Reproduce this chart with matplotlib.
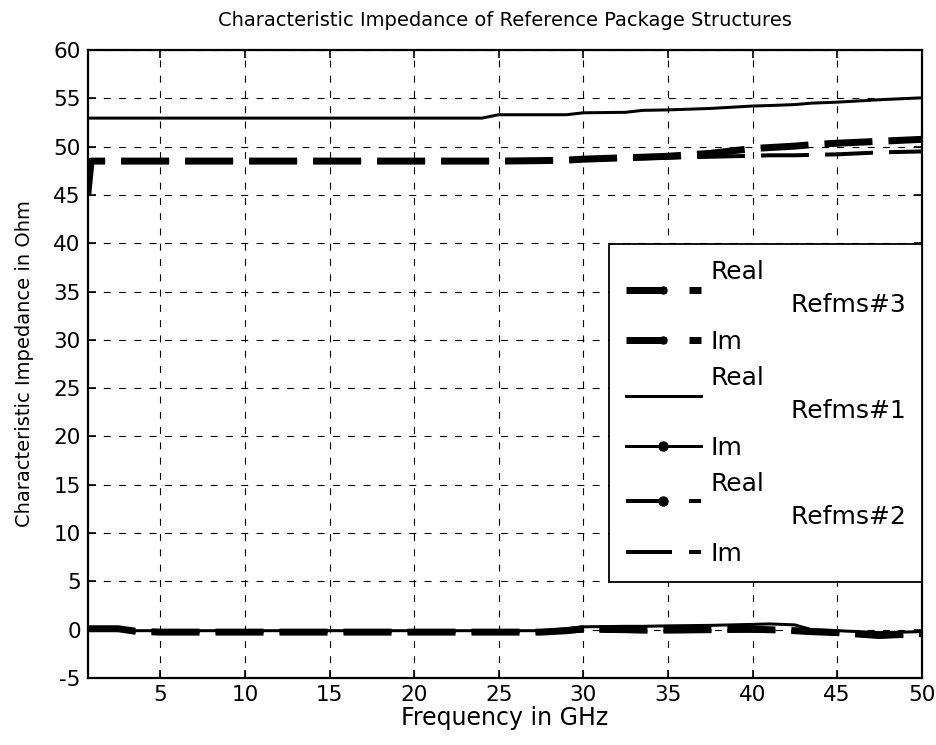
import matplotlib
matplotlib.use("Agg")
import matplotlib.pyplot as plt
from matplotlib.lines import Line2D

plt.rcParams['font.family'] = ['DejaVu Sans']
plt.rcParams['lines.scale_dashes'] = False
plt.rcParams['axes.unicode_minus'] = False

# ---- data ----
freq = [0.7, 0.9, 2.5, 3.5, 5, 7.5, 10, 12.5, 15, 17.5, 20, 22.5, 24, 25,
        27.5, 29, 30, 32.5, 33.5, 35, 37.5, 40, 41, 42.5, 43.5, 45, 47.5, 50]

refms1_real = [52.95, 52.95, 52.95, 52.95, 52.95, 52.95, 52.95, 52.95, 52.95, 52.95,
               52.95, 52.95, 52.95, 53.3, 53.3, 53.3, 53.5, 53.55, 53.75, 53.8,
               53.95, 54.2, 54.25, 54.35, 54.5, 54.6, 54.85, 55.05]
refms1_im = [0.1, 0.1, 0.1, -0.1, -0.1, -0.1, -0.1, -0.1, -0.1, -0.1,
             -0.1, -0.1, -0.1, -0.1, -0.1, 0.1, 0.3, 0.35, 0.35, 0.4,
             0.45, 0.55, 0.6, 0.5, 0.0, -0.1, -0.3, -0.2]

refms3_real = [45.0, 48.5, 48.5, 48.5, 48.5, 48.5, 48.5, 48.5, 48.5, 48.5,
               48.5, 48.5, 48.5, 48.5, 48.55, 48.6, 48.7, 48.85, 48.9, 49.0,
               49.3, 49.8, 49.9, 50.05, 50.2, 50.35, 50.55, 50.75]
refms3_im = [0.1, 0.1, 0.1, -0.15, -0.25, -0.25, -0.25, -0.25, -0.25, -0.25,
             -0.25, -0.25, -0.25, -0.25, -0.25, -0.1, 0.1, 0.1, 0.1, 0.1,
             0.1, 0.05, 0.0, -0.1, -0.2, -0.3, -0.6, -0.4]

refms2_real = [45.0, 48.5, 48.5, 48.5, 48.5, 48.5, 48.5, 48.5, 48.5, 48.5,
               48.5, 48.5, 48.5, 48.5, 48.55, 48.6, 48.65, 48.75, 48.8, 48.85,
               48.95, 49.05, 49.1, 49.1, 49.15, 49.2, 49.4, 49.5]
refms2_im = [0.05, 0.05, 0.05, -0.2, -0.2, -0.2, -0.2, -0.2, -0.2, -0.2,
             -0.2, -0.2, -0.2, -0.2, -0.2, -0.2, -0.1, -0.15, -0.2, -0.2,
             -0.15, -0.1, -0.1, -0.2, -0.3, -0.4, -0.7, -0.5]

xticks = [5, 10, 15, 20, 25, 30, 35, 40, 45, 50]
yticks = [-5, 0, 5, 10, 15, 20, 25, 30, 35, 40, 45, 50, 55, 60]

# ---- styles ----
px = 72.0 / 100.0  # points per pixel at 100 dpi
dash_plot = (0, (48 * px, 16 * px))
lw3 = 7 * px
lw1 = 3 * px
lw2 = 4 * px

fig = plt.figure(figsize=(9.36, 7.45), dpi=100)
ax = fig.add_axes([0.0937, 0.0899, 0.8910, 0.8430])

ax.plot(freq, refms2_real, color='black', lw=lw2, linestyle=dash_plot, dash_capstyle='butt')
ax.plot(freq, refms2_im, color='black', lw=lw2, linestyle=dash_plot, dash_capstyle='butt')
ax.plot(freq, refms1_im, color='black', lw=lw1, linestyle='-')
ax.plot(freq, refms1_real, color='black', lw=lw1, linestyle='-')
ax.plot(freq, refms3_real, color='black', lw=lw3, linestyle=dash_plot, dash_capstyle='butt')
ax.plot(freq, refms3_im, color='black', lw=lw3, linestyle=dash_plot, dash_capstyle='butt')

ax.set_xlim(0.7, 50)
ax.set_ylim(-5, 60)
ax.set_xticks(xticks)
ax.set_yticks(yticks)
ax.grid(True, color='black', linestyle=(0, (5, 6)), linewidth=0.8)
ax.tick_params(direction='in', length=6, width=1.2, top=True, right=True,
               labelsize=15.5, pad=5)
for s in ax.spines.values():
    s.set_linewidth(1.6)

ax.set_title('Characteristic Impedance of Reference Package Structures',
             fontsize=14, pad=17)
ax.set_xlabel('Frequency in GHz', fontsize=17, labelpad=1)
ax.set_ylabel('Characteristic Impedance in Ohm', fontsize=14, labelpad=14)

# ---- legend (proxy handles reproducing legend glyphs) ----
leg_dash = (0, (40 * px, 23 * px))
h = [
    Line2D([], [], color='black', lw=lw3, linestyle=leg_dash, marker='o', markersize=7 * px, dash_capstyle='butt'),
    Line2D([], [], color='black', lw=lw3, linestyle=leg_dash, marker='o', markersize=7 * px, dash_capstyle='butt'),
    Line2D([], [], color='black', lw=lw1, linestyle='-'),
    Line2D([], [], color='black', lw=lw1, linestyle='-', marker='o', markersize=9 * px),
    Line2D([], [], color='black', lw=lw2, linestyle=leg_dash, marker='o', markersize=9 * px, dash_capstyle='butt'),
    Line2D([], [], color='black', lw=lw2, linestyle=(0, (46 * px, 17 * px)), dash_capstyle='butt'),
]
pad = ' ' * 10
labels = ['Real\n' + pad + 'Refms#3', 'Im',
          'Real\n' + pad + 'Refms#1', 'Im',
          'Real\n' + pad + 'Refms#2', 'Im']
leg = ax.legend(h, labels, loc='lower right', bbox_to_anchor=(1.0, 0.153),
                fontsize=18, handlelength=3.0, handletextpad=0.4,
                labelspacing=0.5, borderpad=0.65, borderaxespad=0.0,
                fancybox=False, framealpha=1.0, edgecolor='black', numpoints=1)
leg.get_frame().set_linewidth(1.3)
for t in leg.get_texts():
    t.set_linespacing(1.47)

fig.savefig('out.png', dpi=100)
